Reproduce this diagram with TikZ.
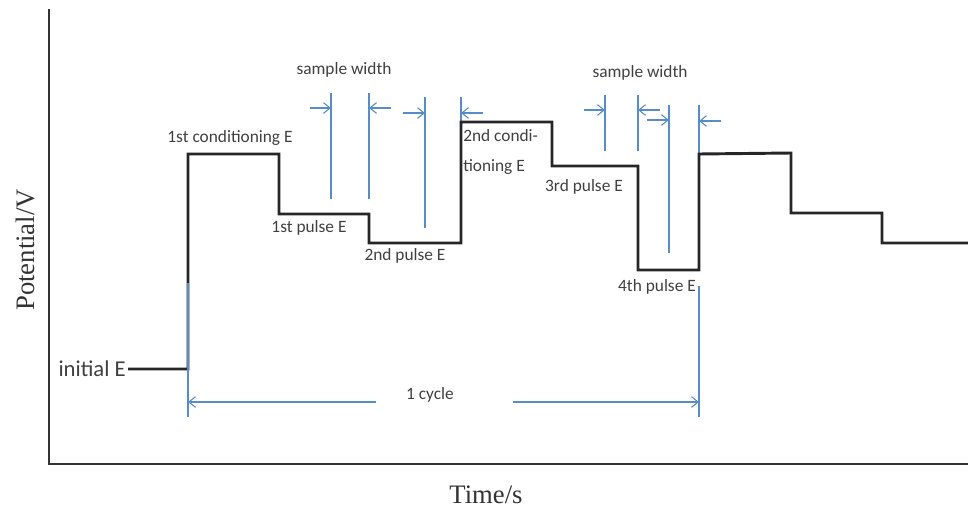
\documentclass[tikz,border=0pt]{standalone}
\usepackage{fontspec}
\setmainfont{Liberation Serif}
\newfontfamily\calibri{Carlito}
\usetikzlibrary{arrows.meta}
\definecolor{swblue}{RGB}{86,140,200}

\begin{document}
\begin{tikzpicture}[
                x=0.75pt, y=-0.75pt,
                lbl/.style={font=\calibri\fontsize{13}{23}\selectfont, text=black!75, inner sep=0pt, align=left},
                axlbl/.style={font=\fontsize{20}{24}\selectfont, text=black!80, inner sep=0pt},
                wave/.style={line width=2.2pt, draw=black!85, line join=miter},
                guide/.style={line width=0.8pt, draw=swblue},
                gap/.style={guide, -{Straight Barb[length=5pt, width=8pt]}},
            ]
            \useasboundingbox (0,0) rectangle (968,511);
            % --- 坐标轴 ---
            \draw[wave, draw=black!80] (49,9) -- (49,464) -- (968,464);
            \node[axlbl, rotate=90] (yLab) at (25,250) {Potential/V};
            \node[axlbl] (xLab) at (486,495) {Time/s};
            % --- 辅助竖线（采样区间与周期）---
            \foreach \x/\ya/\yb in {331/93/199, 369/93/199, 425/97/228, 461/97/122,
                                    605/95/151, 638/95/151, 669/105/253, 699/105/154}
                \draw[guide] (\x,\ya) -- (\x,\yb);
            % --- 电位阶梯波形 ---
            \draw[wave] (128,369) -- (188,369) -- (188,154) -- (279,154) -- (279,214)
                -- (369,214) -- (369,243) -- (461,243) -- (461,122) -- (552,122)
                -- (552,166) -- (638,166) -- (638,270) -- (699,270) -- (699,154)
                -- (791,153) -- (791,213) -- (882,213) -- (882,243) -- (968,243);
            \foreach \x/\ya/\yb in {188/283/417, 699/286/417}
                \draw[guide] (\x,\ya) -- (\x,\yb);
            % --- 电位标注 ---
            \node[lbl, font=\calibri\fontsize{17}{20}\selectfont, anchor=east] (eInit) at (126,369) {initial E};
            \node[lbl] (eCond1) at (230,138) {1st conditioning E};
            \node[lbl] (ePulse1) at (309,228) {1st pulse E};
            \node[lbl] (ePulse2) at (405,256) {2nd pulse E};
            \node[lbl, anchor=west] (eCond2) at (463,152) {2nd condi-\\tioning E};
            \node[lbl] (ePulse3) at (584,187) {3rd pulse E};
            \node[lbl] (ePulse4) at (657,287) {4th pulse E};
            % --- 采样宽度 ---
            \node[lbl] (sw1) at (344,70) {sample width};
            \node[lbl] (sw2) at (640,73) {sample width};
            \foreach \xs/\xe/\y in {310/331/108, 391/369/108, 403/425/113, 483/461/113,
                                    584/605/110, 660/638/110, 647/669/120, 721/699/121}
                \draw[gap] (\xs,\y) -- (\xe,\y);
            % --- 周期 ---
            \node[lbl] (cyc) at (430,395) {1 cycle};
            \coordinate (cycL) at (188,402);
            \coordinate (cycR) at (699,402);
            \draw[gap] (376,402) -- (cycL);
            \draw[gap] (513,402) -- (cycR);
        \end{tikzpicture}
\end{document}
